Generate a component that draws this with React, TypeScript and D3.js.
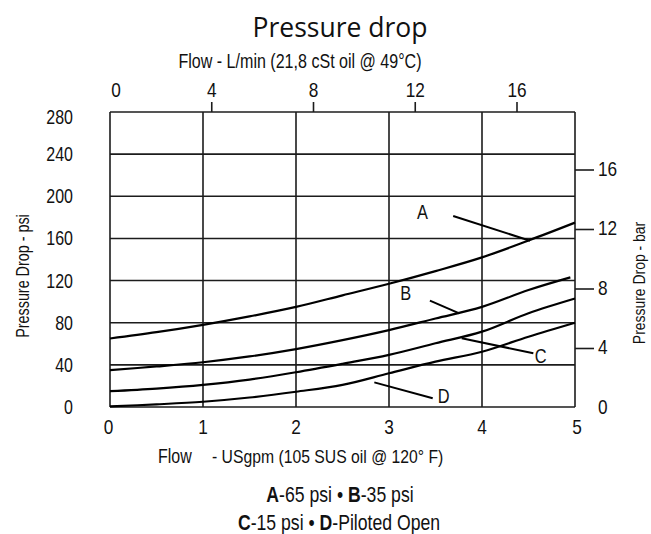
import React from 'react';
import * as d3 from 'd3';

// Flow in US gpm, pressure drop in psi
const flowGpm = [0, 0.5, 1, 1.5, 2, 2.5, 3, 3.5, 4, 4.5, 5];
const flowGpmB = [0, 0.5, 1, 1.5, 2, 2.5, 3, 3.5, 4, 4.5, 4.95];
const curveA = [65, 71, 78, 86, 95, 106, 117, 129, 142, 158, 175];
const curveB = [35, 38.5, 42.5, 48, 55, 63.5, 73, 84, 95, 111, 123];
const curveC = [15, 17.5, 21, 26, 33, 41, 49.5, 60.5, 71.5, 89, 103];
const curveD = [0.5, 2.5, 5, 9, 14.5, 21, 32, 43, 52.5, 66.7, 80];

const gpmTicks = [0, 1, 2, 3, 4, 5];
const psiTicks = [0, 40, 80, 120, 160, 200, 240, 280];
const lpmTicks = [0, 4, 8, 12, 16];
const barTicks = [0, 4, 8, 12, 16];

// callouts: label, label position, leader start, leader end (gpm, psi)
const callouts = [
  { label: 'A', at: [3.36, 185], from: [3.69, 181.3], to: [4.516, 157.8] },
  { label: 'B', at: [3.18, 108], from: [3.44, 100.9], to: [3.756, 88.9] },
  { label: 'C', at: [4.632, 48.6], from: [3.782, 65.2], to: [4.552, 51] },
  { label: 'D', at: [3.589, 10.6], from: [2.842, 23.4], to: [3.47, 8.3] },
];

const W = 651;
const H = 534;
const sans = '"Liberation Sans", Arial, sans-serif';
const ink = '#111';

// condensed text: Liberation Sans squeezed horizontally (narrow face not installed)
const NText = ({
  x,
  y,
  size,
  anchor = 'start',
  rotate = 0,
  baseline,
  children,
}: {
  x: number;
  y: number;
  size: number;
  anchor?: string;
  rotate?: number;
  baseline?: string;
  children: React.ReactNode;
}) => (
  <text
    transform={`translate(${x},${y}) rotate(${rotate}) scale(0.82,1)`}
    textAnchor={anchor}
    dominantBaseline={baseline}
    fontFamily={sans}
    fontSize={size}
    fill={ink}
  >
    {children}
  </text>
);

export default function App() {
  const x = d3.scaleLinear().domain([0, 5]).range([110, 575]);
  const y = d3.scaleLinear().domain([0, 280]).range([407, 112]);
  const xL = d3.scaleLinear().domain([0, 16]).range([110, 517]);
  const yBar = d3.scaleLinear().domain([0, 16]).range([408, 170]);

  const line = (xs: number[], ys: number[]) =>
    d3
      .line<number>()
      .x((_, i) => x(xs[i]))
      .y((d) => y(d))
      .curve(d3.curveCatmullRom.alpha(0.5))(ys) || '';

  const series = [
    { name: 'A', xs: flowGpm, ys: curveA },
    { name: 'B', xs: flowGpmB, ys: curveB },
    { name: 'C', xs: flowGpm, ys: curveC },
    { name: 'D', xs: flowGpm, ys: curveD },
  ];

  const grid = '#1c1c1c';

  return (
    <svg
      width={W}
      height={H}
      style={{ position: 'absolute', left: 0, top: 0, display: 'block', background: '#fff' }}
    >
      <text x={340} y={37} textAnchor="middle" fontFamily='"Open Sans", sans-serif' fontSize={26.5} fill={ink}>
        Pressure drop
      </text>
      <NText x={300} y={68} anchor="middle" size={19.6}>
        Flow - L/min (21,8 cSt oil @ 49°C)
      </NText>

      {/* grid */}
      {psiTicks.map((t) => (
        <line key={'h' + t} x1={x(0)} x2={x(5)} y1={y(t)} y2={y(t)} stroke={grid} strokeWidth={1.6} />
      ))}
      {gpmTicks.map((t) => (
        <line key={'v' + t} x1={x(t)} x2={x(t)} y1={y(0)} y2={y(280)} stroke={grid} strokeWidth={1.6} />
      ))}

      {/* top L/min ticks */}
      {lpmTicks.map((t) => (
        <g key={'l' + t}>
          {t > 0 && <line x1={xL(t)} x2={xL(t)} y1={112} y2={102} stroke={grid} strokeWidth={1.6} />}
          <NText x={t === 0 ? xL(t) + 6 : xL(t)} y={96.5} anchor="middle" size={21}>
            {t}
          </NText>
        </g>
      ))}

      {/* right bar ticks */}
      {barTicks.map((t) => (
        <g key={'b' + t}>
          {t > 0 && <line x1={575} x2={594} y1={yBar(t)} y2={yBar(t)} stroke={grid} strokeWidth={1.6} />}
          <NText x={598} y={t === 0 ? 413.5 : yBar(t) + 5.5} size={21}>
            {t}
          </NText>
        </g>
      ))}

      {/* left psi labels */}
      {psiTicks.map((t) => (
        <NText key={'p' + t} x={73} y={(t === 280 ? y(t) + 4.5 : y(t)) + 7} anchor="end" size={19.5}>
          {t}
        </NText>
      ))}

      {/* bottom gpm labels */}
      {gpmTicks.map((t) => (
        <NText key={'g' + t} x={x(t) + (t === 0 ? -1.5 : t === 5 ? 2 : 0)} y={433.5} anchor="middle" size={21}>
          {t}
        </NText>
      ))}

      {/* curves */}
      {series.map((s) => (
        <path key={s.name} d={line(s.xs, s.ys)} fill="none" stroke="#000" strokeWidth={2.2} />
      ))}

      {/* callouts */}
      {callouts.map((c) => (
        <g key={'c' + c.label}>
          <line
            x1={x(c.from[0])}
            y1={y(c.from[1])}
            x2={x(c.to[0])}
            y2={y(c.to[1])}
            stroke="#000"
            strokeWidth={2}
          />
          <NText x={x(c.at[0])} y={y(c.at[1]) + 7} anchor="middle" size={20}>
            {c.label}
          </NText>
        </g>
      ))}

      {/* axis titles */}
      <NText x={29} y={276} anchor="middle" rotate={-90} size={17.5}>
        Pressure Drop - psi
      </NText>
      <NText x={645} y={283} anchor="middle" rotate={-90} size={17}>
        Pressure Drop - bar
      </NText>
      <NText x={158} y={462.5} size={19.5}>
        Flow
      </NText>
      <NText x={212} y={462.5} size={19.2}>
        - USgpm (105 SUS oil @ 120° F)
      </NText>

      {/* legend */}
      <NText x={340} y={501.5} anchor="middle" size={21.5}>
        <tspan fontWeight="bold">A</tspan>-65 psi • <tspan fontWeight="bold">B</tspan>-35 psi
      </NText>
      <NText x={339} y={529.5} anchor="middle" size={21.5}>
        <tspan fontWeight="bold">C</tspan>-15 psi • <tspan fontWeight="bold">D</tspan>-Piloted Open
      </NText>
    </svg>
  );
}
